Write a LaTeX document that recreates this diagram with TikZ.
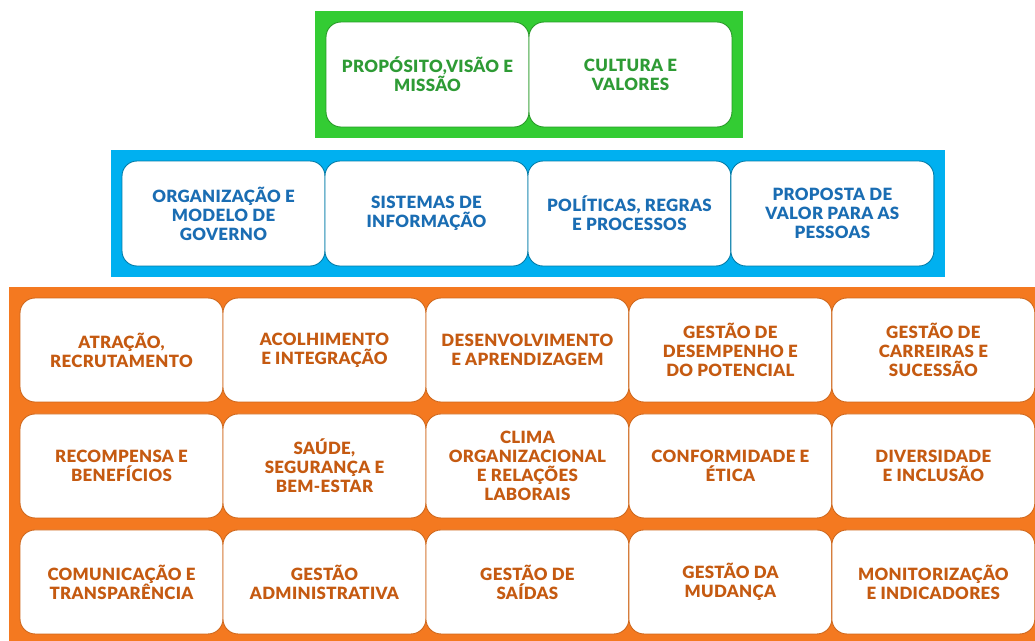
\documentclass[tikz,border=0pt]{standalone}
\usepackage{fontspec}
\setmainfont{Lato}[BoldFont={Lato Black}]
\usetikzlibrary{positioning,fit,backgrounds}
\definecolor{verde}{HTML}{33CC33}
\definecolor{verdetxt}{HTML}{2E9B35}
\definecolor{azul}{HTML}{00B0F0}
\definecolor{azultxt}{HTML}{1A6DB3}
\definecolor{laranja}{HTML}{F47920}
\definecolor{laranjatxt}{HTML}{C55A11}
\begin{document}
\begin{tikzpicture}[x=0.02cm, y=-0.02cm,
  caixa/.style={draw, rounded corners=0.3cm, fill=white, line width=0.5pt,
    minimum width=4.06cm, minimum height=2.1cm, outer sep=0pt, inner sep=1pt,
    align=center, font=\fontsize{9.6}{10.8}\selectfont\bfseries\addfontfeatures{LetterSpace=2}},
  cverde/.style={caixa, draw=verde!75!black, text=verdetxt},
  cazul/.style={caixa, draw=azul!70!black, text=azultxt},
  claranja/.style={caixa, draw=laranja!85!black, text=laranjatxt, minimum height=2.08cm},
  node distance=0pt]
 \clip (0,0) rectangle (1035,640);
 % topo
 \node[cverde] (g1) at (427.5,74.5) {PROPÓSITO,VISÃO E\\MISSÃO};
 \node[cverde, right=of g1] (g2) {CULTURA E\\VALORES};
 % meio
 \node[cazul] (b1) at (223.5,213.5) {ORGANIZAÇÃO E\\MODELO DE\\GOVERNO};
 \node[cazul, right=of b1] (b2) {SISTEMAS DE\\INFORMAÇÃO};
 \node[cazul, right=of b2] (b3) {POLÍTICAS, REGRAS\\E PROCESSOS};
 \node[cazul, right=of b3] (b4) {PROPOSTA DE\\VALOR PARA AS\\PESSOAS};
 % base
 \node[claranja] (o1) at (121.5,350) {ATRAÇÃO,\\RECRUTAMENTO};
 \node[claranja, right=of o1] (o2) {ACOLHIMENTO\\E INTEGRAÇÃO};
 \node[claranja, right=of o2] (o3) {DESENVOLVIMENTO\\E APRENDIZAGEM};
 \node[claranja, right=of o3] (o4) {GESTÃO DE\\DESEMPENHO E\\DO POTENCIAL};
 \node[claranja, right=of o4] (o5) {GESTÃO DE\\CARREIRAS E\\SUCESSÃO};
 \node[claranja, below=0.24cm of o1] (o6) {RECOMPENSA E\\BENEFÍCIOS};
 \node[claranja, right=of o6] (o7) {SAÚDE,\\SEGURANÇA E\\BEM-ESTAR};
 \node[claranja, right=of o7] (o8) {CLIMA\\ORGANIZACIONAL\\E RELAÇÕES\\LABORAIS};
 \node[claranja, right=of o8] (o9) {CONFORMIDADE E\\ÉTICA};
 \node[claranja, right=of o9] (o10) {DIVERSIDADE\\E INCLUSÃO};
 \node[claranja, below=0.24cm of o6] (o11) {COMUNICAÇÃO E\\TRANSPARÊNCIA};
 \node[claranja, right=of o11] (o12) {GESTÃO\\ADMINISTRATIVA};
 \node[claranja, right=of o12] (o13) {GESTÃO DE\\SAÍDAS};
 \node[claranja, right=of o13] (o14) {GESTÃO DA\\MUDANÇA};
 \node[claranja, right=of o14] (o15) {MONITORIZAÇÃO\\E INDICADORES};
 % faixas
 \begin{scope}[on background layer]
  \fill[white] (0,0) rectangle (1035,640);
  \node[fit=(g1)(g2), inner sep=0.23cm, fill=verde] (faixaverde) {};
  \node[fit=(b1)(b4), inner sep=0.23cm, fill=azul] (faixaazul) {};
  \node[fit=(o1)(o15), inner sep=0.23cm, fill=laranja] (faixalaranja) {};
 \end{scope}
\end{tikzpicture}
\end{document}
